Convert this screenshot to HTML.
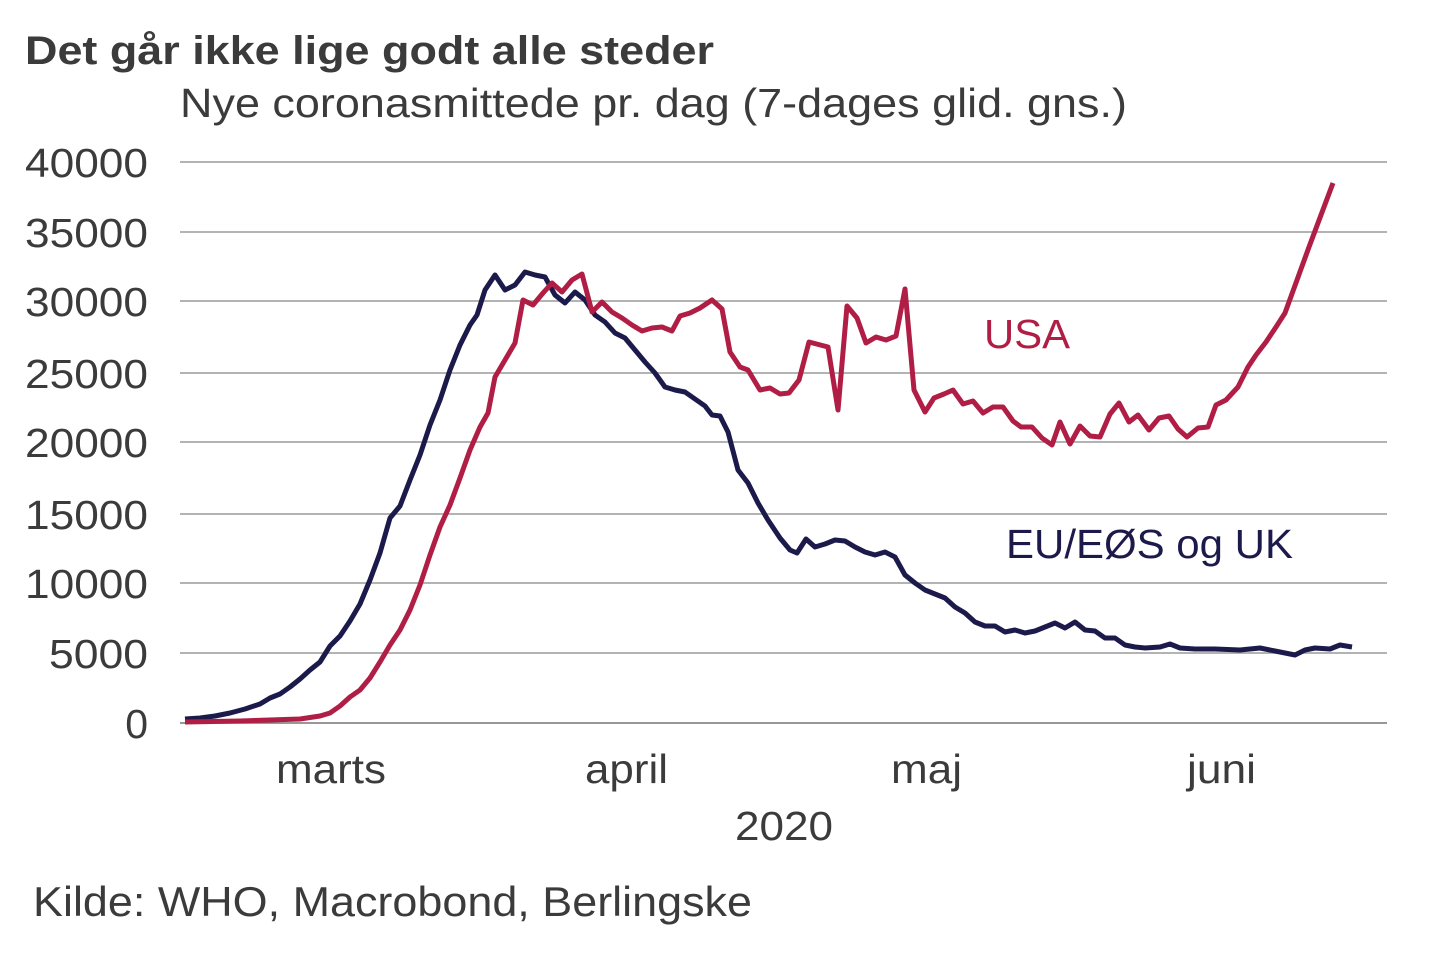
<!DOCTYPE html>
<html><head><meta charset="utf-8"><style>
body{margin:0;background:#fff;}
svg{display:block;font-family:"Liberation Sans",sans-serif;}
</style></head><body>
<svg width="1440" height="960" viewBox="0 0 1440 960">
<text x="25" y="64" font-size="40" font-weight="bold" fill="#3b3b3b" textLength="689" lengthAdjust="spacingAndGlyphs">Det går ikke lige godt alle steder</text>
<text x="180" y="117" font-size="41" fill="#3b3b3b" textLength="947" lengthAdjust="spacingAndGlyphs">Nye coronasmittede pr. dag (7-dages glid. gns.)</text>
<g stroke="#9a9a9a" stroke-width="1.5">
<line x1="180" x2="1387" y1="162" y2="162"/><line x1="180" x2="1387" y1="232" y2="232"/>
<line x1="180" x2="1387" y1="301" y2="301"/><line x1="180" x2="1387" y1="373" y2="373"/>
<line x1="180" x2="1387" y1="442" y2="442"/><line x1="180" x2="1387" y1="514" y2="514"/>
<line x1="180" x2="1387" y1="583" y2="583"/><line x1="180" x2="1387" y1="653" y2="653"/>
<line x1="180" x2="1387" y1="723" y2="723" stroke="#777"/>
</g>
<g font-size="41" fill="#3b3b3b" text-anchor="end">
<text x="148" y="177" textLength="123" lengthAdjust="spacingAndGlyphs">40000</text>
<text x="148" y="247" textLength="123" lengthAdjust="spacingAndGlyphs">35000</text>
<text x="148" y="316" textLength="123" lengthAdjust="spacingAndGlyphs">30000</text>
<text x="148" y="388" textLength="123" lengthAdjust="spacingAndGlyphs">25000</text>
<text x="148" y="457" textLength="123" lengthAdjust="spacingAndGlyphs">20000</text>
<text x="148" y="529" textLength="123" lengthAdjust="spacingAndGlyphs">15000</text>
<text x="148" y="598" textLength="123" lengthAdjust="spacingAndGlyphs">10000</text>
<text x="148" y="668" textLength="99" lengthAdjust="spacingAndGlyphs">5000</text>
<text x="148" y="738">0</text>
</g>
<g font-size="41" fill="#3b3b3b">
<text x="276" y="783" textLength="110" lengthAdjust="spacingAndGlyphs">marts</text>
<text x="585" y="783" textLength="83" lengthAdjust="spacingAndGlyphs">april</text>
<text x="891" y="783" textLength="71" lengthAdjust="spacingAndGlyphs">maj</text>
<text x="1187" y="783" textLength="69" lengthAdjust="spacingAndGlyphs">juni</text>
<text x="735" y="840" textLength="98" lengthAdjust="spacingAndGlyphs">2020</text>
</g>
<polyline fill="none" stroke="#1c1a4b" stroke-width="5" stroke-linejoin="round" points="185,719 200,718 215,716 230,713 245,709 260,704 270,698 280,694 290,687 300,679 310,670 320,662 330,646 340,636 350,621 360,604 370,580 380,553 390,518 400,506 410,480 420,455 430,425 440,400 450,370 460,345 470,325 477,315 485,290 495,275 505,290 515,285 525,272 535,275 545,277 555,295 565,303 575,292 585,300 595,315 605,322 615,333 625,338 635,350 645,362 655,373 665,387 675,390 685,392 695,399 705,406 712,415 720,416 728,432 738,470 748,483 758,503 768,520 780,538 790,550 797,553 806,539 815,547 825,544 835,540 845,541 855,547 865,552 875,555 885,552 895,557 905,575 915,583 925,590 935,594 945,598 955,607 965,613 975,622 985,626 995,626 1005,632 1015,630 1025,633 1035,631 1045,627 1055,623 1065,628 1075,622 1085,630 1095,631 1105,638 1115,638 1125,645 1135,647 1145,648 1160,647 1170,644 1180,648 1195,649 1215,649 1240,650 1260,648 1275,651 1295,655 1305,650 1315,648 1330,649 1340,645 1352,647"/>
<polyline fill="none" stroke="#b01e45" stroke-width="5" stroke-linejoin="round" points="185,722 240,721 300,719 320,716 330,713 340,706 350,697 360,690 370,678 380,662 390,645 400,630 410,610 420,585 430,555 440,527 450,505 460,478 470,450 480,427 488,413 495,377 505,360 515,343 523,300 533,305 543,293 552,283 562,292 572,280 582,274 592,312 602,302 612,312 622,318 632,325 642,331 652,328 662,327 672,331 680,316 690,313 700,308 712,300 722,309 730,352 740,367 748,370 760,390 770,388 780,394 789,393 799,380 809,342 828,347 838,410 847,306 857,318 866,343 876,337 886,340 896,336 905,289 914,390 925,412 934,398 944,394 953,390 963,404 973,401 983,413 993,407 1003,407 1013,421 1021,427 1032,427 1042,438 1052,445 1060,422 1070,444 1080,426 1090,436 1100,437 1110,414 1119,403 1129,422 1138,415 1149,430 1159,418 1169,416 1178,429 1187,437 1198,428 1208,427 1216,405 1226,400 1238,387 1248,367 1256,355 1266,342 1276,327 1285,313 1309,247 1333,183"/>
<text x="984" y="348" font-size="41" fill="#b01e45" textLength="86" lengthAdjust="spacingAndGlyphs">USA</text>
<text x="1006" y="558" font-size="41" fill="#1c1a4b" textLength="287" lengthAdjust="spacingAndGlyphs">EU/EØS og UK</text>
<text x="33" y="916" font-size="42" fill="#3b3b3b" textLength="719" lengthAdjust="spacingAndGlyphs">Kilde: WHO, Macrobond, Berlingske</text>
</svg>
</body></html>
